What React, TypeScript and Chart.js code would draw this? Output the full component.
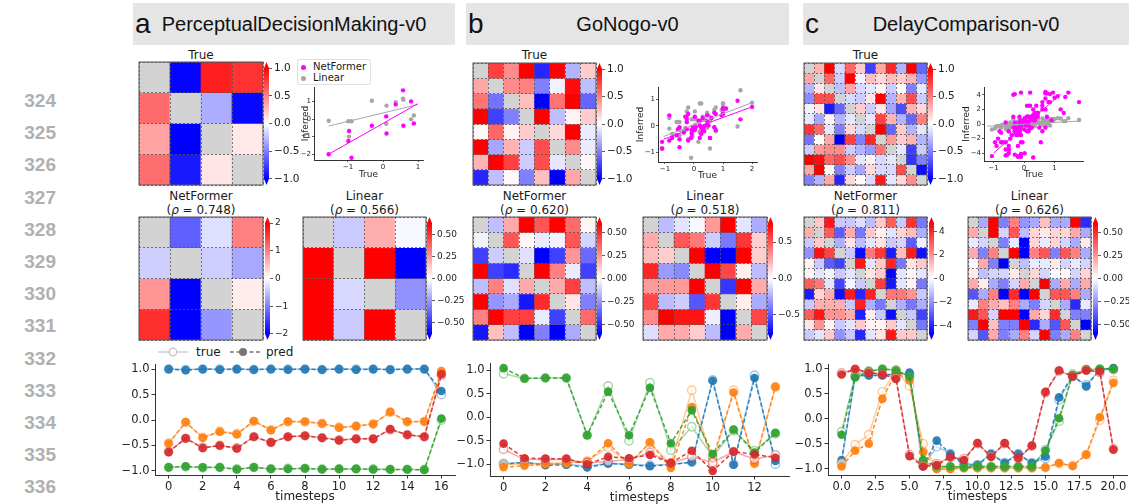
import React, { useEffect, useRef } from "react";
import { Chart, registerables } from "chart.js";

Chart.register(...registerables);
Chart.defaults.font.family = "'DejaVu Sans', 'Liberation Sans', sans-serif";
Chart.defaults.color = "#222";

// ---------------- data ----------------
const lineNumbers = ["324", "325", "326", "327", "328", "329", "330", "331", "332", "333", "334", "335", "336"];
const panelLetters = ["a", "b", "c"];
const panelTitles = ["PerceptualDecisionMaking-v0", "GoNogo-v0", "DelayComparison-v0"];
const rhoNetFormer = ["0.748", "0.620", "0.811"];
const rhoLinear = ["0.566", "0.518", "0.626"];

// panel a weight matrices (true / NetFormer / Linear)
const trueA = [
  [0, -0.99, 0.88, 0.8],
  [0.58, 0, -0.32, -0.97],
  [0.36, -1.55, 0, 0.09],
  [0.57, -0.9, 0.1, 0],
];
const netA = [
  [0, -1.25, -0.25, 1.0],
  [-0.38, 0, -0.38, -0.68],
  [0.83, -2.0, 0, 0.15],
  [1.63, -2.2, -0.82, 0],
];
const linA = [
  [0, -0.13, 0.2, -0.02],
  [1.1, 0, 1.04, -1.0],
  [0.95, -0.1, 0, -0.27],
  [1.16, -0.13, 0.76, 0],
];
const fitNetA = [{ x: -1.55, y: -2.0 }, { x: 0.99, y: 0.87 }];
const fitLinA = [{ x: -1.55, y: -0.4 }, { x: 0.99, y: 0.82 }];

// panel b
const trueB = [
  [0, 0.75, 0.45, 1.5, -0.85, 2.0, -0.3, 0.2],
  [0.35, 0, 0.45, 0.5, -0.5, -0.05, 0.95, -0.25],
  [0.55, -0.55, 0, 0.25, -1.1, 0.55, 1.6, -0.6],
  [1.1, -0.75, -0.5, 0, 1.0, -0.25, 0.05, 0.2],
  [0.02, 0.6, 0.05, 0.2, 0, 0.15, 1.0, -0.08],
  [1.0, -0.35, 0.3, -0.2, 0.7, 0, 0.45, -0.08],
  [0.3, 1.0, 0.75, -0.2, 0.7, -0.1, 0, 0.03],
  [-0.85, -0.25, 0.02, -0.5, 0.25, -1.1, 0.35, 0],
];
const netB = [
  [0, -0.15, 0.2, 0.95, 0.4, 0.72, 0.35, 0.02],
  [-0.03, 0, 0.4, 0.02, -0.05, -0.03, 0.4, -0.1],
  [-0.45, -0.12, 0, -0.07, -0.85, -0.45, 0.25, -0.35],
  [0.66, -0.45, -0.5, 0, 0.66, 0.3, -0.05, -0.45],
  [-0.15, 0.3, -0.07, 0.2, 0, 0.2, 0.45, -0.15],
  [0.66, -0.25, -0.2, -0.55, 0.5, 0, 0.06, -0.3],
  [0.3, 0.66, 0.45, 0.45, -0.05, -0.45, 0, 0.35],
  [-0.55, 0.15, -0.15, -0.8, -0.3, -0.6, -0.2, 0],
];
const linB = [
  [0, -0.2, -0.08, -0.02, 0.3, 0.88, -0.08, -0.25],
  [0.25, 0, 0.5, 0.4, -0.15, -0.4, 0.6, 0.15],
  [0.2, 0.15, 0, 0.85, -0.85, -0.85, 1.35, 0.15],
  [0.65, -0.3, -0.35, 0, 0.85, 0.55, 0.05, -0.2],
  [0.3, 0.3, 0.3, 0.85, 0, -0.6, 0.8, 0.25],
  [0.55, -0.2, -0.15, -0.5, 0.6, 0, 0.05, -0.25],
  [0.35, 0.85, 0.7, 0.7, -0.05, -1.2, 0, 0.55],
  [-0.1, 0.25, 0.25, 0.15, -0.2, -0.85, 0.25, 0],
];
const fitNetB = [{ x: -1.05, y: -0.5 }, { x: 2.0, y: 0.72 }];
const fitLinB = [{ x: -1.05, y: -0.4 }, { x: 2.0, y: 0.88 }];

// panel c
const trueC = [
  [0, 0.3, 1.45, -0.15, 0.6, 0.2, -0.75, 0.35, 0.85, -0.3, 1.1, -0.6],
  [0.35, 0, 0.6, -0.2, 1.3, -0.05, 0.25, 0.15, 0.25, 0.2, 0.3, -0.4],
  [-0.3, 0.1, 0, -0.25, 0.35, -0.15, -0.1, 0.05, -0.2, 0.02, -0.5, -0.1],
  [-0.45, 0.7, 0.7, 0, -0.15, -0.2, 0.1, 1.35, -0.3, 0.3, 0.7, -0.2],
  [-0.05, 0.1, -0.9, -0.6, 0, 0.2, -0.2, 0.1, -0.35, -0.7, 0.3, 0.15],
  [-0.1, -0.35, 0.05, -0.3, -0.1, 0, -0.1, 0.75, 0.3, -0.3, -0.6, 0.5],
  [0.8, 0.6, -0.1, -0.5, 0.15, -0.15, 0, 1.0, -0.6, 0.2, -0.3, -0.1],
  [-0.55, 0.02, 0.35, -1.05, 0.75, -0.5, 0.85, 0, 0.4, 0.2, 0.3, -0.3],
  [-0.2, 0.4, 0.45, 0.45, -0.2, -0.3, -0.4, 0.55, 0, -0.1, -0.75, -0.2],
  [1.8, 0.95, 0.6, 0.7, 0.45, -0.1, 0.05, -0.15, -0.1, 0, -0.8, -0.5],
  [0.35, 1.2, 0.02, -0.5, -0.2, -0.35, 0.15, -0.15, -0.15, 0.7, 0, -0.95],
  [-0.5, -0.3, 0.35, -0.85, 0.15, 0.02, -0.15, 0.9, -0.1, 0.15, 0.45, 0],
];
const netC = [
  [0, 1.0, 4.3, -1.0, -1.0, -0.6, -1.2, 1.0, 3.0, -1.0, 3.8, -2.5],
  [1.5, 0, 3.0, -3.0, 1.5, -2.5, 1.0, 0.3, -0.5, 0.8, 1.2, -1.5],
  [-1.0, 1.0, 0, -1.5, 0.5, -1.2, -0.5, 0.5, -1.0, -0.8, -3.0, -0.3],
  [-2.0, 4.4, 3.5, 0, -1.0, -4.5, 2.5, 3.7, -4.2, 1.2, 4.2, -4.4],
  [0.2, -1.0, -3.0, -3.5, 0, 4.3, -0.5, 1.0, 4.0, -2.5, 0.5, 1.0],
  [0.2, -0.5, -0.2, -1.0, -0.5, 0, 0.5, 1.0, -4.6, -0.5, 0.2, -0.5],
  [3.0, 2.5, -0.5, -3.5, -0.2, -1.0, 0, 3.6, -4.3, -0.5, 0.2, -2.5],
  [-4.2, 0.8, 1.5, -4.4, 4.2, -4.0, 4.1, 0, 2.5, 2.5, 2.0, -1.0],
  [-1.0, 1.5, 1.5, 1.5, -1.0, 4.1, -1.5, -2.5, 0, -1.5, -2.5, -1.5],
  [3.0, 4.3, 2.0, 2.0, 1.5, -4.1, 0.3, -1.0, -4.5, 0, -1.0, -3.5],
  [0.5, 2.0, 0.2, -1.0, -0.5, 1.0, 0.2, 0.2, 1.0, -0.5, 0, -2.5],
  [-1.0, -0.5, 1.0, -2.0, -1.0, -4.0, -0.5, 0.5, 4.3, 1.0, 1.0, 0],
];
const linC = [
  [0, -0.2, 0.8, -0.3, 0.3, -0.25, -0.2, 0.15, -0.2, -0.2, 0.8, -0.5],
  [0.2, 0, 0.75, -0.1, 0.4, -0.15, 0.1, 0.05, 0.1, 0.1, 0.2, -0.2],
  [-0.05, -0.1, 0, -0.3, -0.05, -0.7, 0.1, -0.05, 0.1, -0.1, -0.2, 0.05],
  [0.2, -0.3, 0.3, 0, 0.7, -0.75, 0.3, 0.4, -0.3, 0.4, 0.3, -0.2],
  [-0.02, 0.2, -0.3, -0.7, 0, -0.15, -0.05, -0.05, 0.05, -0.1, -0.05, -0.1],
  [0.05, -0.15, -0.1, -0.1, 0.05, 0, 0.1, -0.1, -0.02, 0.02, -0.1, 0.1],
  [0.2, 0.05, -0.2, -0.3, -0.1, 0.2, 0, 0.7, -0.2, 0.2, -0.2, 0.2],
  [-0.4, -0.2, 0.3, -0.75, 0.5, -0.7, 0.65, 0, 0.4, 0.4, 0.3, -0.2],
  [-0.05, 0.3, 0.2, 0.15, 0.3, -0.2, -0.3, -0.1, 0, -0.2, -0.5, -0.05],
  [0.55, 0.4, -0.1, 0.6, 0.65, -0.7, 0.2, 0.1, 0.5, 0, -0.3, -0.3],
  [-0.3, 0.75, 0.15, -0.3, -0.3, 0.7, -0.5, -0.2, -0.4, 0.4, 0, -0.6],
  [-0.1, -0.4, 0.2, -0.3, -0.2, 0.3, -0.1, 0.7, -0.3, -0.2, 0.3, 0],
];
const fitNetC = [{ x: -1.0, y: -4.0 }, { x: 1.2, y: 4.1 }];
const fitLinC = [{ x: -1.2, y: -0.3 }, { x: 1.8, y: 0.4 }];

// colorbar ticks
const cbTrueTicks = [1, 0.5, 0, -0.5, -1];
const cbTrueLabels = ["1.0", "0.5", "0.0", "−0.5", "−1.0"];
const cbNetATicks = [2, 1, 0, -1, -2];
const cbNetALabels = ["2", "1", "0", "−1", "−2"];
const cbQuarterTicks = [0.5, 0.25, 0, -0.25, -0.5];
const cbQuarterLabels = ["0.50", "0.25", "0.00", "−0.25", "−0.50"];
const cbHalfTicks = [0.5, 0, -0.5];
const cbHalfLabels = ["0.5", "0.0", "−0.5"];
const cbNetCTicks = [4, 2, 0, -2, -4];
const cbNetCLabels = ["4", "2", "0", "−2", "−4"];

// scatter ticks
const scAXTicks = [-1, 0, 1];
const scAYTicks = [-2, -1, 0, 1];
const scBXTicks = [-1, 0, 1, 2];
const scBYTicks = [-1, 0, 1];
const scCXTicks = [-1, 0, 1];
const scCYTicks = [-4, -2, 0, 2, 4];

// activity traces
const stepsA = [0, 1, 2, 3, 4, 5, 6, 7, 8, 9, 10, 11, 12, 13, 14, 15, 16];
const aBlueTrue = [1.0, 0.99, 1.0, 1.0, 1.0, 0.99, 1.0, 1.0, 1.0, 0.99, 1.0, 1.0, 1.0, 0.99, 1.0, 1.0, 0.5];
const aBluePred = [1.0, 0.98, 1.0, 0.99, 1.0, 0.99, 1.0, 0.99, 1.0, 0.99, 1.0, 0.99, 1.0, 0.99, 1.0, 1.0, 0.57];
const aOrangeTrue = [-0.45, -0.05, -0.34, -0.22, -0.27, -0.03, -0.19, -0.04, -0.04, -0.07, -0.14, -0.12, -0.08, 0.15, -0.04, -0.03, 0.92];
const aOrangePred = [-0.46, -0.04, -0.35, -0.23, -0.28, -0.02, -0.2, -0.03, -0.03, -0.07, -0.15, -0.12, -0.08, 0.16, -0.03, -0.03, 0.96];
const aGreenTrue = [-0.93, -0.92, -0.94, -0.93, -0.96, -0.93, -0.96, -0.95, -0.95, -0.96, -0.96, -0.96, -0.96, -0.97, -0.97, -0.97, 0.0];
const aGreenPred = [-0.93, -0.91, -0.93, -0.93, -0.97, -0.93, -0.96, -0.96, -0.95, -0.97, -0.96, -0.96, -0.97, -0.97, -0.97, -0.98, 0.03];
const aRedTrue = [-0.62, -0.36, -0.54, -0.5, -0.55, -0.33, -0.44, -0.33, -0.31, -0.35, -0.39, -0.37, -0.37, -0.19, -0.29, -0.33, 0.88];
const aRedPred = [-0.63, -0.36, -0.55, -0.5, -0.56, -0.33, -0.44, -0.33, -0.31, -0.35, -0.4, -0.37, -0.37, -0.18, -0.29, -0.33, 0.9];

const stepsB = [0, 1, 2, 3, 4, 5, 6, 7, 8, 9, 10, 11, 12, 13];
const bBlueTrue = [-0.98, -0.97, -1.0, -1.0, -1.04, -0.98, -1.0, -1.02, -1.0, -0.96, 0.8, -1.0, 0.9, -1.0];
const bBluePred = [-1.0, -0.96, -1.02, -1.01, -1.07, -0.98, -1.01, -1.04, -1.01, -0.95, 0.78, -1.01, 0.84, -0.93];
const bOrangeTrue = [-1.0, -1.0, -0.98, -0.97, -0.93, -0.64, -0.98, -0.55, -1.0, 0.58, -0.98, 0.58, -0.98, 0.65];
const bOrangePred = [-1.06, -1.03, -1.0, -0.98, -0.94, -0.55, -1.0, -0.53, -1.08, 0.22, -0.87, 0.53, -0.98, 0.65];
const bGreenTrue = [0.93, 0.83, 0.84, 0.84, -0.38, 0.67, -0.5, 0.74, -0.7, -0.2, -0.84, -0.28, -0.71, -0.35];
const bGreenPred = [1.05, 0.83, 0.84, 0.84, -0.38, 0.55, -0.38, 0.63, -0.55, 0.15, -0.78, -0.26, -0.75, -0.33];
const bRedTrue = [-0.68, -0.9, -0.9, -0.9, -0.97, -0.94, -0.9, -0.75, -0.97, -0.84, -0.96, -0.73, -0.89, -0.8];
const bRedPred = [-0.56, -0.87, -0.88, -0.88, -1.0, -0.84, -0.87, -0.8, -0.97, -0.71, -1.14, -0.73, -0.79, -0.86];

const stepsC = [0, 1, 2, 3, 4, 5, 6, 7, 8, 9, 10, 11, 12, 13, 14, 15, 16, 17, 18, 19, 20];
const cBlueTrue = [-0.88, 0.85, 0.88, 0.88, 0.9, 0.9, -0.95, -0.56, -0.7, -0.9, -0.92, -0.7, -0.88, -0.7, -0.88, -0.8, 0.38, 0.85, 0.68, 0.98, 1.0];
const cBluePred = [-0.83, 0.87, 0.87, 0.87, 0.9, 0.93, -0.95, -0.44, -0.71, -0.93, -0.93, -0.71, -0.89, -0.71, -0.89, -0.76, 0.43, 0.87, 0.65, 0.99, 1.02];
const cOrangeTrue = [-0.89, -0.52, -0.32, 0.54, 0.97, 0.66, -0.5, -1.0, -1.0, -0.99, -0.99, -0.99, -0.99, -0.99, -0.99, -0.98, -0.9, -0.94, -0.72, -0.03, 0.77];
const cOrangePred = [-0.96, -0.64, -0.5, 0.4, 0.93, 0.77, -0.67, -1.01, -1.01, -0.99, -0.99, -0.99, -0.99, -0.99, -0.99, -0.98, -0.89, -0.95, -0.72, 0.03, 0.72];
const cGreenTrue = [-0.26, 0.88, 0.96, 1.0, 0.98, 0.85, -0.85, -0.97, -0.96, -0.97, -0.96, -0.96, -0.96, -0.96, -0.96, -0.62, -0.05, 0.9, 0.99, 1.0, 0.99];
const cGreenPred = [-0.32, 0.83, 0.95, 1.0, 0.97, 0.85, -0.83, -0.96, -0.96, -0.97, -0.96, -0.96, -0.96, -0.96, -0.96, -0.64, 0.01, 0.88, 0.99, 1.0, 1.0];
const cRedTrue = [0.92, 0.99, 0.94, 0.9, 0.82, -0.72, -0.94, -0.9, -0.78, -0.8, -0.5, -0.75, -0.5, -0.8, -0.55, 0.52, 0.96, 0.86, 0.98, 0.93, -0.6];
const cRedPred = [0.89, 1.0, 0.92, 0.89, 0.8, -0.75, -0.96, -0.93, -0.77, -0.83, -0.49, -0.77, -0.49, -0.79, -0.54, 0.54, 0.97, 0.85, 0.97, 0.95, -0.62];

const actYTicks = [-1, -0.5, 0, 0.5, 1];
const actYLabels = ["−1.0", "−0.5", "0.0", "0.5", "1.0"];
const xTicksA = [0, 2, 4, 6, 8, 10, 12, 14, 16];
const xLabelsA = ["0", "2", "4", "6", "8", "10", "12", "14", "16"];
const xTicksB = [0, 2, 4, 6, 8, 10, 12];
const xLabelsB = ["0", "2", "4", "6", "8", "10", "12"];
const xTicksC = [0, 2.5, 5, 7.5, 10, 12.5, 15, 17.5, 20];
const xLabelsC = ["0.0", "2.5", "5.0", "7.5", "10.0", "12.5", "15.0", "17.5", "20.0"];

// ---------------- styling helpers ----------------
const DIAG = "#d3d3d3";
const MAG = "#ff00ff";
const GRAY = "#a6a6a6";
const BLUE = [31, 119, 180];
const ORANGE = [255, 127, 14];
const GREEN = [44, 160, 44];
const RED = [214, 39, 40];
const rgba = (c: number[], a: number) => `rgba(${c[0]},${c[1]},${c[2]},${a})`;
const fmt = (v: number) => (v < 0 ? "−" + Math.abs(v) : String(v));

function bwr(v: number, vmax: number) {
  const t = (Math.max(-vmax, Math.min(vmax, v)) / vmax + 1) / 2;
  if (t < 0.5) {
    const c = Math.round(510 * t);
    return `rgb(${c},${c},255)`;
  }
  const c = Math.round(510 * (1 - t));
  return `rgb(255,${c},${c})`;
}

function pairs(tr: number[][], inf: number[][]) {
  const out: { x: number; y: number }[] = [];
  tr.forEach((row, i) => row.forEach((v, j) => { if (i !== j) out.push({ x: v, y: inf[i][j] }); }));
  return out;
}

const framePlugin = {
  id: "frame",
  afterDraw(chart: any) {
    const { ctx, chartArea: a } = chart;
    ctx.save();
    ctx.strokeStyle = "#555";
    ctx.lineWidth = 1;
    ctx.strokeRect(a.left, a.top, a.right - a.left, a.bottom - a.top);
    ctx.restore();
  },
};

const extendPlugin = {
  id: "cbext",
  afterDatasetsDraw(chart: any, _args: any, opts: any) {
    const { ctx, chartArea: a, scales } = chart;
    const y = scales.y;
    const vmax = opts.vmax;
    const cx = (a.left + a.right) / 2;
    ctx.save();
    ctx.fillStyle = "rgb(255,0,0)";
    ctx.beginPath();
    ctx.moveTo(a.left, y.getPixelForValue(vmax));
    ctx.lineTo(a.right, y.getPixelForValue(vmax));
    ctx.lineTo(cx, a.top);
    ctx.closePath();
    ctx.fill();
    ctx.fillStyle = "rgb(0,0,255)";
    ctx.beginPath();
    ctx.moveTo(a.left, y.getPixelForValue(-vmax));
    ctx.lineTo(a.right, y.getPixelForValue(-vmax));
    ctx.lineTo(cx, a.bottom);
    ctx.closePath();
    ctx.fill();
    ctx.restore();
  },
};

const base = {
  animation: false,
  responsive: false,
  events: [] as string[],
};

function heatmapConfig(m: number[][], vmax: number) {
  const labels = m.map((_, j) => `c${j}`);
  const datasets = m.map((row, i) => ({
    data: row.map(() => [i, i + 1]),
    backgroundColor: row.map((v, j) => (i === j ? DIAG : bwr(v, vmax))),
    borderWidth: 0,
    barPercentage: 1,
    categoryPercentage: 1,
    grouped: false,
  }));
  return {
    type: "bar",
    data: { labels, datasets },
    options: {
      ...base,
      layout: { padding: 1 },
      plugins: { legend: { display: false }, tooltip: { enabled: false } },
      scales: {
        x: {
          ticks: { display: false },
          grid: { color: "#555", lineWidth: 0.8, drawTicks: false, offset: true, z: 1 },
          border: { display: false, dash: [2, 2] },
          afterFit: (s: any) => { s.height = 0; },
        },
        y: {
          reverse: true,
          min: 0,
          max: m.length,
          ticks: { display: false, stepSize: 1 },
          grid: { color: "#555", lineWidth: 0.8, drawTicks: false, z: 1 },
          border: { display: false, dash: [2, 2] },
          afterFit: (s: any) => { s.width = 0; },
        },
      },
    },
    plugins: [framePlugin],
  };
}

function colorbarConfig(vmax: number, ticks: number[], labels: string[], fontSize: number) {
  const ext = vmax / 9;
  return {
    type: "bar",
    data: {
      labels: ["cb"],
      datasets: [{
        data: [[-vmax, vmax]],
        barPercentage: 1,
        categoryPercentage: 1,
        borderWidth: 0,
        backgroundColor: (c: any) => {
          const ch = c.chart;
          if (!ch.chartArea) return "rgba(0,0,0,0)";
          const y = ch.scales.y;
          const g = ch.ctx.createLinearGradient(0, y.getPixelForValue(vmax), 0, y.getPixelForValue(-vmax));
          g.addColorStop(0, "rgb(255,0,0)");
          g.addColorStop(0.5, "rgb(255,255,255)");
          g.addColorStop(1, "rgb(0,0,255)");
          return g;
        },
      }],
    },
    options: {
      ...base,
      layout: { padding: { top: 10, bottom: 10, left: 0, right: 0 } },
      plugins: { legend: { display: false }, tooltip: { enabled: false }, cbext: { vmax } },
      scales: {
        x: { display: false },
        y: {
          position: "right",
          min: -vmax - ext,
          max: vmax + ext,
          afterBuildTicks: (s: any) => { s.ticks = ticks.map((v) => ({ value: v })); },
          ticks: { callback: (_v: any, i: number) => labels[i], font: { size: fontSize }, color: "#222", padding: 2, autoSkip: false },
          grid: { drawOnChartArea: false, drawTicks: true, tickLength: 3, color: "#333", lineWidth: 0.8 },
          border: { display: false },
          afterFit: (s: any) => { s.width = 40; },
        },
      },
    },
    plugins: [extendPlugin],
  };
}

function scatterConfig(
  nf: { x: number; y: number }[], lin: { x: number; y: number }[],
  fitNf: { x: number; y: number }[], fitLin: { x: number; y: number }[],
  xr: number[], yr: number[], xt: number[], yt: number[], W: number, H: number,
) {
  return {
    type: "scatter",
    data: {
      datasets: [
        { type: "line", data: fitNf, borderColor: MAG, borderWidth: 1, pointRadius: 0, order: 0 },
        { type: "line", data: fitLin, borderColor: GRAY, borderWidth: 1, pointRadius: 0, order: 1 },
        { data: nf, backgroundColor: MAG, borderWidth: 0, pointRadius: 2.2, order: 2 },
        { data: lin, backgroundColor: GRAY, borderWidth: 0, pointRadius: 2.2, order: 3 },
      ],
    },
    options: {
      ...base,
      layout: { padding: { top: 10, right: 8, left: 0, bottom: 0 } },
      plugins: { legend: { display: false }, tooltip: { enabled: false } },
      scales: {
        x: {
          type: "linear", min: xr[0], max: xr[1],
          afterBuildTicks: (s: any) => { s.ticks = xt.map((v) => ({ value: v })); },
          ticks: { callback: (v: number) => fmt(v), font: { size: 7 }, padding: 1, autoSkip: false, maxRotation: 0 },
          grid: { drawOnChartArea: false, tickLength: 2, color: "#333", lineWidth: 0.8 },
          border: { color: "#333", width: 1 },
          title: { display: true, text: "True", font: { size: 9 }, padding: 0, color: "#222" },
          afterFit: (s: any) => { s.height = H; },
        },
        y: {
          type: "linear", min: yr[0], max: yr[1],
          afterBuildTicks: (s: any) => { s.ticks = yt.map((v) => ({ value: v })); },
          ticks: { callback: (v: number) => fmt(v), font: { size: 7 }, padding: 1, autoSkip: false },
          grid: { drawOnChartArea: false, tickLength: 2, color: "#333", lineWidth: 0.8 },
          border: { color: "#333", width: 1 },
          title: { display: true, text: "Inferred", font: { size: 9 }, padding: 0, color: "#222" },
          afterFit: (s: any) => { s.width = W; },
        },
      },
    },
  };
}

type Series = { rgb: number[]; truth: number[]; pred: number[] };

function lineConfig(steps: number[], series: Series[], xr: number[], yr: number[], xt: number[], xl: string[]) {
  const datasets: any[] = [];
  series.forEach((s, k) => {
    datasets.push({
      data: steps.map((x, i) => ({ x, y: s.truth[i] })),
      borderColor: rgba(s.rgb, 0.4), borderWidth: 1.5,
      pointRadius: 4.2, pointBackgroundColor: "rgba(255,255,255,0.6)",
      pointBorderColor: rgba(s.rgb, 0.42), pointBorderWidth: 1.4,
      order: -(2 * k), clip: 8,
    });
    datasets.push({
      data: steps.map((x, i) => ({ x, y: s.pred[i] })),
      borderColor: rgba(s.rgb, 0.9), borderWidth: 1.5, borderDash: [4, 2.5],
      pointRadius: 4.3, pointBackgroundColor: rgba(s.rgb, 0.92),
      pointBorderColor: rgba(s.rgb, 0.92), pointBorderWidth: 0,
      order: -(2 * k + 1), clip: 8,
    });
  });
  return {
    type: "line",
    data: { datasets },
    options: {
      ...base,
      layout: { padding: { top: 10, right: 8, left: 0, bottom: 0 } },
      plugins: { legend: { display: false }, tooltip: { enabled: false } },
      scales: {
        x: {
          type: "linear", min: xr[0], max: xr[1],
          afterBuildTicks: (s: any) => { s.ticks = xt.map((v) => ({ value: v })); },
          ticks: { callback: (_v: any, i: number) => xl[i], font: { size: 11.5 }, padding: 2, autoSkip: false, maxRotation: 0 },
          grid: { drawOnChartArea: false, tickLength: 3.5, color: "#333", lineWidth: 1 },
          border: { color: "#333", width: 1 },
          title: { display: true, text: "timesteps", font: { size: 12 }, padding: { top: 0, bottom: 1 }, color: "#222" },
          afterFit: (s: any) => { s.height = 30; },
        },
        y: {
          type: "linear", min: yr[0], max: yr[1],
          afterBuildTicks: (s: any) => { s.ticks = actYTicks.map((v) => ({ value: v })); },
          ticks: { callback: (_v: any, i: number) => actYLabels[i], font: { size: 11.5 }, padding: 2, autoSkip: false },
          grid: { drawOnChartArea: false, tickLength: 3.5, color: "#333", lineWidth: 1 },
          border: { color: "#333", width: 1 },
          afterFit: (s: any) => { s.width = 45; },
        },
      },
    },
  };
}

// ---------------- layout ----------------
type Area = { l: number; t: number; r: number; b: number };
type Spec = { key: string; left: number; top: number; width: number; height: number; make: () => any };

function heatSpec(key: string, m: number[][], vmax: number, a: Area): Spec {
  return { key, left: a.l - 1, top: a.t - 1, width: a.r - a.l + 2, height: a.b - a.t + 2, make: () => heatmapConfig(m, vmax) };
}
function cbSpec(key: string, x: number, a: Area, vmax: number, ticks: number[], labels: string[], fs: number): Spec {
  return { key, left: x, top: a.t - 10, width: 45, height: a.b - a.t + 20, make: () => colorbarConfig(vmax, ticks, labels, fs) };
}
function scSpec(key: string, a: Area, W: number, H: number, make: () => any): Spec {
  return { key, left: a.l - W, top: a.t - 10, width: a.r - a.l + W + 8, height: a.b - a.t + 10 + H, make };
}
function lnSpec(key: string, a: Area, make: () => any): Spec {
  return { key, left: a.l - 45, top: a.t - 10, width: a.r - a.l + 53, height: a.b - a.t + 40, make };
}

const HTA: Area = { l: 139, t: 62, r: 263, b: 185 };
const HNA: Area = { l: 139, t: 217, r: 263, b: 340 };
const HLA: Area = { l: 303, t: 217, r: 426, b: 340 };
const HTB: Area = { l: 473, t: 63, r: 596, b: 185 };
const HNB: Area = { l: 473, t: 217, r: 596, b: 340 };
const HLB: Area = { l: 643, t: 217, r: 767, b: 340 };
const HTC: Area = { l: 804, t: 63, r: 927, b: 185 };
const HNC: Area = { l: 804, t: 217, r: 927, b: 340 };
const HLC: Area = { l: 968, t: 217, r: 1091, b: 340 };
const SCA: Area = { l: 314, t: 87, r: 423, b: 160 };
const SCB: Area = { l: 658, t: 87, r: 757, b: 162 };
const SCC: Area = { l: 984, t: 87, r: 1083, b: 161 };
const LNA: Area = { l: 155, t: 364, r: 455, b: 475 };
const LNB: Area = { l: 490, t: 363, r: 789, b: 476 };
const LNC: Area = { l: 828, t: 364, r: 1127, b: 475 };

const SPECS: Spec[] = [
  heatSpec("hta", trueA, 1, HTA),
  cbSpec("cta", 264, HTA, 1, cbTrueTicks, cbTrueLabels, 10.5),
  heatSpec("hna", netA, 2, HNA),
  cbSpec("cna", 265, HNA, 2, cbNetATicks, cbNetALabels, 9),
  heatSpec("hla", linA, 0.63, HLA),
  cbSpec("cla", 427, HLA, 0.63, cbQuarterTicks, cbQuarterLabels, 9),
  heatSpec("htb", trueB, 1, HTB),
  cbSpec("ctb", 597, HTB, 1, cbTrueTicks, cbTrueLabels, 10.5),
  heatSpec("hnb", netB, 0.6, HNB),
  cbSpec("cnb", 597, HNB, 0.6, cbQuarterTicks, cbQuarterLabels, 9),
  heatSpec("hlb", linB, 0.76, HLB),
  cbSpec("clb", 768, HLB, 0.76, cbHalfTicks, cbHalfLabels, 9),
  heatSpec("htc", trueC, 1, HTC),
  cbSpec("ctc", 928, HTC, 1, cbTrueTicks, cbTrueLabels, 10.5),
  heatSpec("hnc", netC, 4.7, HNC),
  cbSpec("cnc", 929, HNC, 4.7, cbNetCTicks, cbNetCLabels, 9),
  heatSpec("hlc", linC, 0.6, HLC),
  cbSpec("clc", 1093, HLC, 0.6, cbQuarterTicks, cbQuarterLabels, 9),
  scSpec("sca", SCA, 14, 20, () => scatterConfig(pairs(trueA, netA), pairs(trueA, linA), fitNetA, fitLinA, [-1.97, 1.14], [-2.33, 1.82], scAXTicks, scAYTicks, 14, 20)),
  scSpec("scb", SCB, 23, 19, () => scatterConfig(pairs(trueB, netB), pairs(trueB, linB), fitNetB, fitLinB, [-1.24, 2.17], [-1.36, 1.47], scBXTicks, scBYTicks, 23, 19)),
  scSpec("scc", SCC, 23, 19, () => scatterConfig(pairs(trueC, netC), pairs(trueC, linC), fitNetC, fitLinC, [-1.31, 1.93], [-5.07, 5.07], scCXTicks, scCYTicks, 23, 19)),
  lnSpec("lna", LNA, () => lineConfig(stepsA, [
    { rgb: BLUE, truth: aBlueTrue, pred: aBluePred },
    { rgb: ORANGE, truth: aOrangeTrue, pred: aOrangePred },
    { rgb: GREEN, truth: aGreenTrue, pred: aGreenPred },
    { rgb: RED, truth: aRedTrue, pred: aRedPred },
  ], [-0.8, 16.8], [-1.08, 1.1], xTicksA, xLabelsA)),
  lnSpec("lnb", LNB, () => lineConfig(stepsB, [
    { rgb: BLUE, truth: bBlueTrue, pred: bBluePred },
    { rgb: ORANGE, truth: bOrangeTrue, pred: bOrangePred },
    { rgb: GREEN, truth: bGreenTrue, pred: bGreenPred },
    { rgb: RED, truth: bRedTrue, pred: bRedPred },
  ], [-0.65, 13.65], [-1.25, 1.16], xTicksB, xLabelsB)),
  lnSpec("lnc", LNC, () => lineConfig(stepsC, [
    { rgb: BLUE, truth: cBlueTrue, pred: cBluePred },
    { rgb: ORANGE, truth: cOrangeTrue, pred: cOrangePred },
    { rgb: GREEN, truth: cGreenTrue, pred: cGreenPred },
    { rgb: RED, truth: cRedTrue, pred: cRedPred },
  ], [-1, 21], [-1.13, 1.1], xTicksC, xLabelsC)),
];

const HEADERS = [
  { l: 133, r: 455 },
  { l: 466, r: 789 },
  { l: 803, r: 1129 },
];
const TRUE_AREAS = [HTA, HTB, HTC];
const NET_AREAS = [HNA, HNB, HNC];
const LIN_AREAS = [HLA, HLB, HLC];

const TXT = "#1a1a1a";
const MPL = "'DejaVu Sans', sans-serif";

function CenterText({ cx, cy, size, children }: { cx: number; cy: number; size: number; children: any }) {
  return (
    <div style={{ position: "absolute", left: cx - 100, width: 200, top: cy - size * 0.6, textAlign: "center", fontSize: size, lineHeight: `${size * 1.2}px`, fontFamily: MPL, color: TXT, whiteSpace: "nowrap" }}>
      {children}
    </div>
  );
}

export default function App() {
  const refs = useRef<Record<string, HTMLCanvasElement | null>>({});
  useEffect(() => {
    const charts = SPECS.map((s) => new Chart(refs.current[s.key] as HTMLCanvasElement, s.make()));
    return () => charts.forEach((c) => c.destroy());
  }, []);

  return (
    <div style={{ position: "fixed", left: 0, top: 0, width: 1129, height: 504, overflow: "hidden", background: "#fff" }}>
      {lineNumbers.map((n, k) => (
        <div key={n} style={{ position: "absolute", left: 0, width: 56, top: 101 + 32.2 * k - 11, textAlign: "right", fontFamily: "'Liberation Sans', Arial, sans-serif", fontWeight: "bold", fontSize: 19, lineHeight: "22px", color: "#b0b0b0" }}>{n}</div>
      ))}

      {HEADERS.map((h, k) => (
        <div key={k} style={{ position: "absolute", left: h.l, top: 3, width: h.r - h.l, height: 42, background: "#e5e5e5", fontFamily: "'Liberation Sans', Arial, sans-serif", color: "#111" }}>
          <div style={{ position: "absolute", left: 2, top: 0, height: 42, lineHeight: "42px", fontSize: 28 }}>{panelLetters[k]}</div>
          <div style={{ position: "absolute", left: 0, right: 0, top: 0, height: 42, lineHeight: "42px", fontSize: 20, textAlign: "center" }}>{panelTitles[k]}</div>
        </div>
      ))}

      {TRUE_AREAS.map((a, k) => (
        <CenterText key={"t" + k} cx={(a.l + a.r) / 2} cy={55} size={12}>True</CenterText>
      ))}
      {NET_AREAS.map((a, k) => (
        <React.Fragment key={"n" + k}>
          <CenterText cx={(a.l + a.r) / 2} cy={196} size={12}>NetFormer</CenterText>
          <CenterText cx={(a.l + a.r) / 2} cy={210} size={12}>(<i>ρ</i> = {rhoNetFormer[k]})</CenterText>
        </React.Fragment>
      ))}
      {LIN_AREAS.map((a, k) => (
        <React.Fragment key={"l" + k}>
          <CenterText cx={(a.l + a.r) / 2} cy={196} size={12}>Linear</CenterText>
          <CenterText cx={(a.l + a.r) / 2} cy={210} size={12}>(<i>ρ</i> = {rhoLinear[k]})</CenterText>
        </React.Fragment>
      ))}

      {/* scatter legend, panel a */}
      <div style={{ position: "absolute", left: 297, top: 59, width: 72, height: 24, border: "1px solid #e0e0e0", borderRadius: 2, background: "#fff", fontFamily: MPL, fontSize: 10, color: TXT }}>
        <div style={{ position: "absolute", left: 3, top: 1, height: 11, lineHeight: "11px", whiteSpace: "nowrap" }}>
          <span style={{ display: "inline-block", width: 5, height: 5, borderRadius: 3, background: MAG, marginRight: 7, verticalAlign: "middle" }} />NetFormer
        </div>
        <div style={{ position: "absolute", left: 3, top: 12, height: 11, lineHeight: "11px", whiteSpace: "nowrap" }}>
          <span style={{ display: "inline-block", width: 5, height: 5, borderRadius: 3, background: GRAY, marginRight: 7, verticalAlign: "middle" }} />Linear
        </div>
      </div>

      {/* trace legend, panel a */}
      <svg style={{ position: "absolute", left: 155, top: 344 }} width={145} height={16}>
        <line x1={3} y1={8} x2={33} y2={8} stroke="#cfcfcf" strokeWidth={1.5} />
        <circle cx={18} cy={8} r={3.8} fill="#fff" stroke="#c4c4c4" strokeWidth={1.3} />
        <line x1={75} y1={8} x2={105} y2={8} stroke="#777" strokeWidth={1.5} strokeDasharray="4 2.5" />
        <circle cx={88} cy={8} r={4} fill="#777" />
      </svg>
      <div style={{ position: "absolute", left: 196, top: 344, fontFamily: MPL, fontSize: 12, lineHeight: "16px", color: TXT }}>true</div>
      <div style={{ position: "absolute", left: 266, top: 344, fontFamily: MPL, fontSize: 12, lineHeight: "16px", color: TXT }}>pred</div>

      {SPECS.map((s) => (
        <canvas
          key={s.key}
          ref={(el) => { refs.current[s.key] = el; }}
          width={s.width}
          height={s.height}
          style={{ position: "absolute", left: s.left, top: s.top, width: s.width, height: s.height }}
        />
      ))}
    </div>
  );
}
